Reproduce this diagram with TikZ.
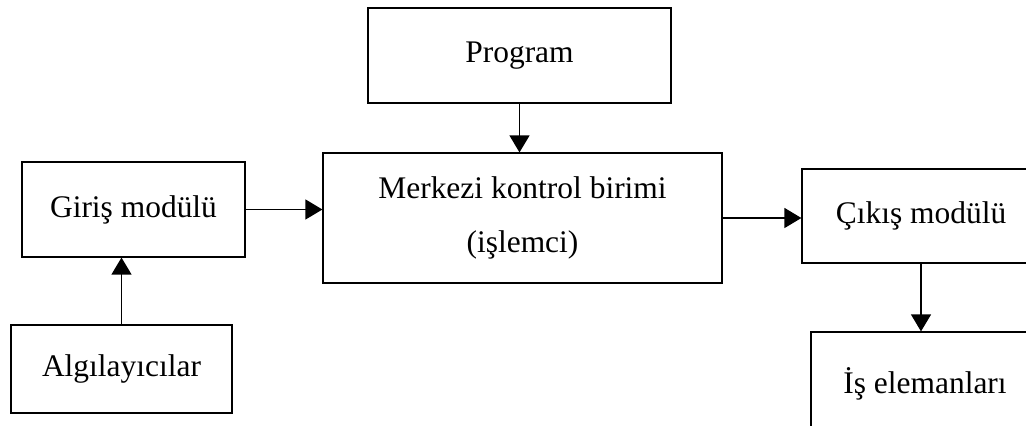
\documentclass[tikz,border=0pt]{standalone}
\usepackage{fontspec}
\setmainfont{Liberation Serif}
\usetikzlibrary{arrows.meta}
\tikzset{
	blok/.style={draw=black,line width=0.7pt,rectangle,inner sep=0pt,align=center,font=\fontsize{17.9}{30.6}\selectfont},
	ok/.style={black,line width=0.75pt,-{Triangle[length=0.34cm,width=0.4cm]}}
}
\begin{document}
\begin{tikzpicture}
			\useasboundingbox (0,0) rectangle (20.52,-8.52);
			\clip (0,0) rectangle (20.52,-8.52);
			\node[blok,minimum width=6.06cm,minimum height=1.9cm](prog) at (10.39,-1.11){Program};
			\node[blok,minimum width=7.98cm,minimum height=2.6cm](mkb) at (10.45,-4.36){Merkezi kontrol birimi\\(işlemci)};
			\node[blok,minimum width=4.46cm,minimum height=1.9cm](giris) at (2.67,-4.19){Giriş modülü};
			\node[blok,minimum width=4.42cm,minimum height=1.76cm](alg) at (2.43,-7.38){Algılayıcılar};
			\node[blok,minimum width=4.76cm,minimum height=1.88cm](cikis) at (18.42,-4.32){Çıkış modülü};
			\node[blok,minimum width=4.56cm,minimum height=2.06cm](is) at (18.5,-7.67){İş elemanları};
			\draw[ok](prog.south)--(prog.south|-mkb.north);
			\draw[ok](giris.east)--(giris.east-|mkb.west);
			\draw[ok](mkb.east)--(mkb.east-|cikis.west);
			\draw[ok](alg.north)--(alg.north|-giris.south);
			\draw[ok](cikis.south)--(cikis.south|-is.north);
		\end{tikzpicture}
\end{document}
